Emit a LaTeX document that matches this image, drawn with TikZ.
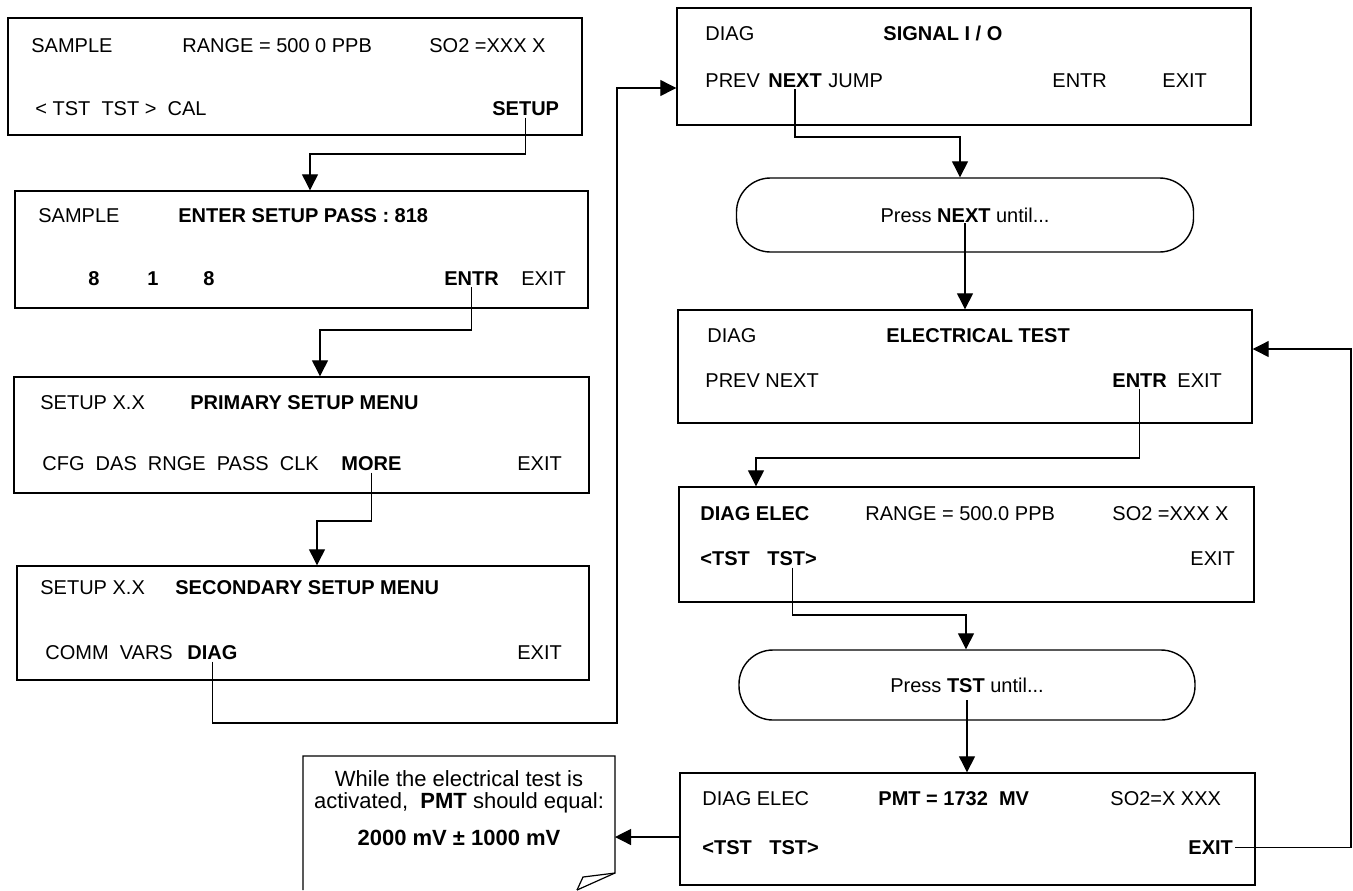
\documentclass[tikz,border=0pt]{standalone}
\usepackage{fontspec}
\setmainfont{Liberation Sans}
\usetikzlibrary{arrows.meta,calc}

\tikzset{
  panel/.style={draw, line width=0.7pt, inner sep=0pt},
  pill/.style={draw, line width=0.7pt, rounded corners=17pt, inner sep=0pt, font=\fontsize{10}{12}\selectfont},
  lbl/.style={anchor=base west, inner sep=1pt, font=\fontsize{10}{12}\selectfont},
  key/.style={lbl, font=\fontsize{10}{12}\selectfont\bfseries},
  flow/.style={line width=0.6pt, -{Triangle[length=8pt,width=8pt]}},
  link/.style={line width=0.6pt},
}

\begin{document}
\begin{tikzpicture}[x=0.5pt, y=-0.5pt]
    \useasboundingbox (0,0) rectangle (1353,890);

    % left column
    \node[panel, minimum width=287pt, minimum height=58.5pt] (sample) at (295,76.5) {};
    \node[lbl] (sampleA) at (29,52) {SAMPLE};
    \node[lbl] (sampleB) at (180,52) {RANGE = 500 0 PPB};
    \node[lbl] (sampleC) at (427,52) {SO2 =XXX X};
    \node[lbl] (sampleD) at (33,115) {< TST\ \ TST >\ \ CAL};
    \node[key] (setupkey) at (490,115) {SETUP};

    \node[panel, minimum width=286.5pt, minimum height=58.5pt] (pass) at (301.5,249.5) {};
    \node[lbl] (passA) at (36,222) {SAMPLE};
    \node[key] (passB) at (176,222) {ENTER SETUP PASS : 818};
    \node[key] (digitA) at (86,285) {8};
    \node[key] (digitB) at (145,285) {1};
    \node[key] (digitC) at (201,285) {8};
    \node[key] (entrkey) at (442,285) {ENTR};
    \node[lbl] (passexit) at (519,285) {EXIT};

    \node[panel, minimum width=287.5pt, minimum height=58pt] (primary) at (301.5,435) {};
    \node[lbl] (primA) at (38,409) {SETUP X.X};
    \node[key] (primB) at (188,409) {PRIMARY SETUP MENU};
    \node[lbl] (primC) at (40,470) {CFG\ \ DAS\ \ RNGE\ \ PASS\ \ CLK};
    \node[key] (morekey) at (339,470) {MORE};
    \node[lbl] (primexit) at (515,470) {EXIT};

    \node[panel, minimum width=286pt, minimum height=57pt] (secondary) at (303,623) {};
    \node[lbl] (secA) at (38,594) {SETUP X.X};
    \node[key] (secB) at (173,594) {SECONDARY SETUP MENU};
    \node[lbl] (secC) at (43,659) {COMM\ \ VARS};
    \node[key] (diagkey) at (185,659) {DIAG};
    \node[lbl] (secexit) at (515,659) {EXIT};

    % right column
    \node[panel, minimum width=287pt, minimum height=58.5pt] (sigio) at (964,66.5) {};
    \node[lbl] (sigA) at (703,40) {DIAG};
    \node[key] (sigB) at (881,40) {SIGNAL I / O};
    \node[lbl] (sigprev) at (703,87) {PREV};
    \node[key] (nextkey) at (766,87) {NEXT};
    \node[lbl] (sigjump) at (826,87) {JUMP};
    \node[lbl] (sigentr) at (1050,87) {ENTR};
    \node[lbl] (sigexit) at (1160,87) {EXIT};

    \node[pill, minimum width=228.5pt, minimum height=37pt] (pressnext) at (965,215) {Press \textbf{NEXT} until...};

    \node[panel, minimum width=287pt, minimum height=56.5pt] (elec) at (965,366.5) {};
    \node[lbl] (elecA) at (705,342) {DIAG};
    \node[key] (elecB) at (884,342) {ELECTRICAL TEST};
    \node[lbl] (elecC) at (703,387) {PREV NEXT};
    \node[key] (elecentr) at (1110,387) {ENTR};
    \node[lbl] (elecexit) at (1175,387) {EXIT};

    \node[panel, minimum width=287.5pt, minimum height=57.5pt] (diagelec) at (966.5,544.5) {};
    \node[key] (delA) at (698,520) {DIAG ELEC};
    \node[lbl] (delB) at (863,520) {RANGE = 500.0 PPB};
    \node[lbl] (delC) at (1110,520) {SO2 =XXX X};
    \node[key] (tstkeyL) at (698,565) {<TST};
    \node[key] (tstkeyR) at (765,565) {TST>};
    \node[lbl] (delexit) at (1188,565) {EXIT};

    \node[pill, minimum width=228pt, minimum height=35pt] (presstst) at (967,685) {Press \textbf{TST} until...};

    \node[panel, minimum width=287.5pt, minimum height=56pt] (pmt) at (967.5,829) {};
    \node[lbl] (pmtA) at (700,805) {DIAG ELEC};
    \node[key] (pmtB) at (876,805) {PMT = 1732\ \ MV};
    \node[lbl] (pmtC) at (1108,805) {SO2=X XXX};
    \node[key] (pmtL) at (700,854) {<TST};
    \node[key] (pmtR) at (767,854) {TST>};
    \node[key] (exitkey) at (1186,854) {EXIT};

    % note with folded corner
    \node[align=center, font=\fontsize{11}{11}\selectfont, anchor=north] (notetext) at (459,763)
        {While the electrical test is\\activated,\ \ \textbf{PMT} should equal:\\[7.5pt]\textbf{2000 mV ± 1000 mV}};
    \draw[link] (303,890) -- (303,756) -- (615,756) -- (615,873) -- (583,877) -- (577,890);
    \draw[link] (615,873) -- (577,890);

    % connectors
    \coordinate (bend1) at (310,154);
    \coordinate (bend2) at (320,330);
    \coordinate (bend3) at (317,521);
    \coordinate (bend4) at (617,723);
    \coordinate (sigin) at (617,88);
    \coordinate (bend5) at (960,137);
    \coordinate (bend6) at (756,458);
    \coordinate (bend7) at (966,615);
    \coordinate (noteE) at (615,837);
    \coordinate (loopR) at (1351,349);

    \draw[flow] (setupkey.south) |- (bend1) -- (bend1 |- pass.north);
    \draw[flow] (entrkey.south) |- (bend2) -- (bend2 |- primary.north);
    \draw[flow] (morekey.south) |- (bend3) -- (bend3 |- secondary.north);
    \draw[flow] (diagkey.south) |- (bend4) -- (sigin) -- (sigin -| sigio.west);
    \draw[flow] (nextkey.south) |- (bend5) -- (bend5 |- pressnext.north);
    \draw[flow] ([yshift=-4pt]pressnext.center) -- (elec.north);
    \draw[flow] (elecentr.south) |- (bend6) -- (bend6 |- diagelec.north);
    \draw[flow] (tstkeyR.south) |- (bend7) -- (bend7 |- presstst.north);
    \draw[flow] ([yshift=-7.5pt]presstst.center) -- (presstst.center |- pmt.north);
    \draw[flow] (noteE -| pmt.west) -- (noteE);
    \draw[flow] (exitkey.east) -| (loopR) -- (loopR -| elec.east);
\end{tikzpicture}
\end{document}
